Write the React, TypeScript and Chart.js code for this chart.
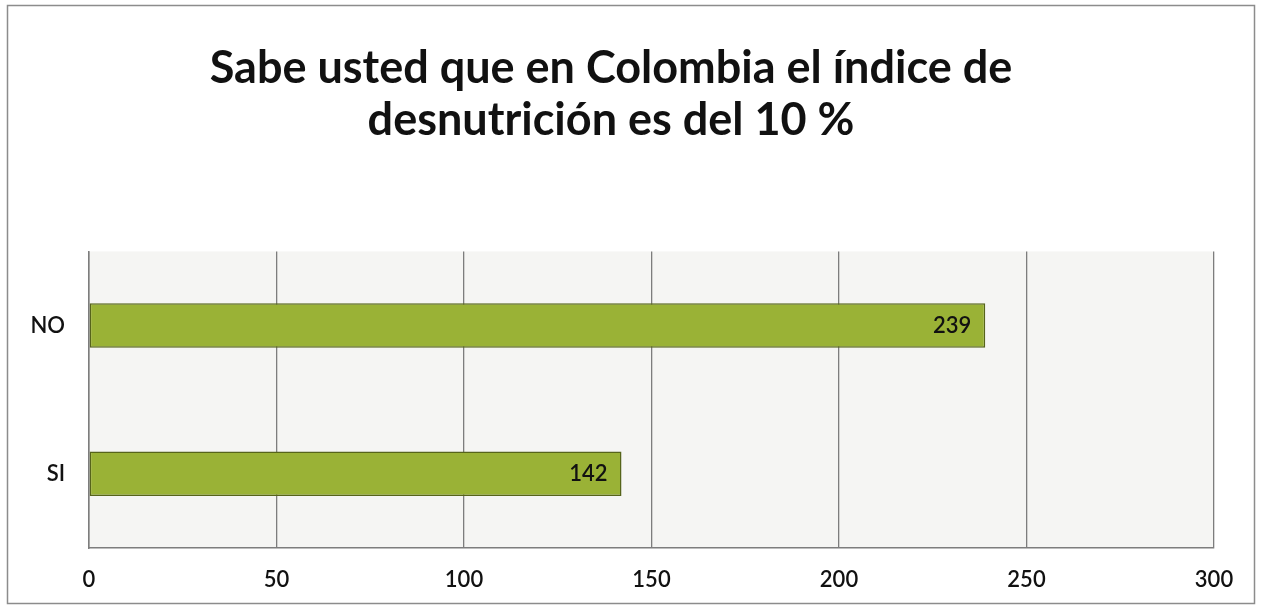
import React, { useEffect, useRef } from "react";
import { Chart, registerables } from "chart.js";

Chart.register(...registerables);

const categories = ["NO", "SI"];
const values = [239, 142];
const titleLines = ["Sabe usted que en Colombia el índice de", "desnutrición es del 10 %"];
const xMin = 0;
const xMax = 300;
const xStep = 50;

const FONT = "Lato, 'Open Sans', sans-serif";

const framePlugin = {
  id: "frame",
  beforeDraw(chart: any) {
    const { ctx, width, height } = chart;
    ctx.save();
    ctx.fillStyle = "#ffffff";
    ctx.fillRect(0, 0, width, height);
    const a = chart.chartArea;
    ctx.fillStyle = "#f5f5f3";
    ctx.fillRect(a.left, a.top, a.right - a.left, a.bottom - a.top);
    ctx.strokeStyle = "#8c8c8c";
    ctx.lineWidth = 1.5;
    ctx.strokeRect(7.5, 5.5, width - 15, height - 11);
    ctx.restore();
  },
};

const valueLabelPlugin = {
  id: "valueLabels",
  afterDatasetsDraw(chart: any) {
    const { ctx } = chart;
    const meta = chart.getDatasetMeta(0);
    ctx.save();
    ctx.font = `600 22px ${FONT}`;
    ctx.fillStyle = "#111111";
    ctx.textAlign = "right";
    ctx.textBaseline = "middle";
    meta.data.forEach((el: any, i: number) => {
      ctx.fillText(String(values[i]), el.x - 14, el.y);
    });
    ctx.restore();
  },
};

export default function App() {
  const ref = useRef<HTMLCanvasElement>(null);
  useEffect(() => {
    document.body.style.margin = "0";
    const chart = new Chart(ref.current as HTMLCanvasElement, {
      type: "bar",
      data: {
        labels: categories,
        datasets: [
          {
            data: values,
            backgroundColor: "#9ab236",
            borderColor: "#56641a",
            borderWidth: 1.5,
            borderSkipped: false,
            categoryPercentage: 1,
            barPercentage: 0.3,
          },
        ],
      },
      options: {
        indexAxis: "y",
        animation: false,
        responsive: false,
        maintainAspectRatio: false,
        layout: { padding: { left: 8, right: 48, top: 0, bottom: 0 } },
        plugins: {
          legend: { display: false },
          tooltip: { enabled: false },
          title: {
            display: true,
            text: titleLines,
            color: "#111111",
            font: { family: FONT, size: 45, weight: "bold", lineHeight: 1.16 },
            padding: { top: 42, bottom: 105 },
          },
        },
        scales: {
          x: {
            min: xMin,
            max: xMax,
            ticks: {
              stepSize: xStep,
              color: "#111111",
              font: { family: FONT, size: 22, weight: "600" },
              padding: 19,
            },
            grid: { color: "#7d7d7d", lineWidth: 1.3, drawTicks: false },
            border: { color: "#7d7d7d", width: 1.5 },
            afterFit(scale: any) {
              scale.height = 61;
            },
          },
          y: {
            ticks: {
              color: "#111111",
              font: { family: FONT, size: 22, weight: "600" },
              padding: 24,
            },
            grid: { display: false, drawTicks: false },
            border: { color: "#7d7d7d", width: 1.5 },
            afterFit(scale: any) {
              scale.width = 81;
            },
          },
        },
      },
      plugins: [framePlugin, valueLabelPlugin],
    });
    return () => chart.destroy();
  }, []);
  return (
    <div style={{ width: 1262, height: 609 }}>
      <canvas ref={ref} width={1262} height={609} style={{ display: "block" }} />
    </div>
  );
}
